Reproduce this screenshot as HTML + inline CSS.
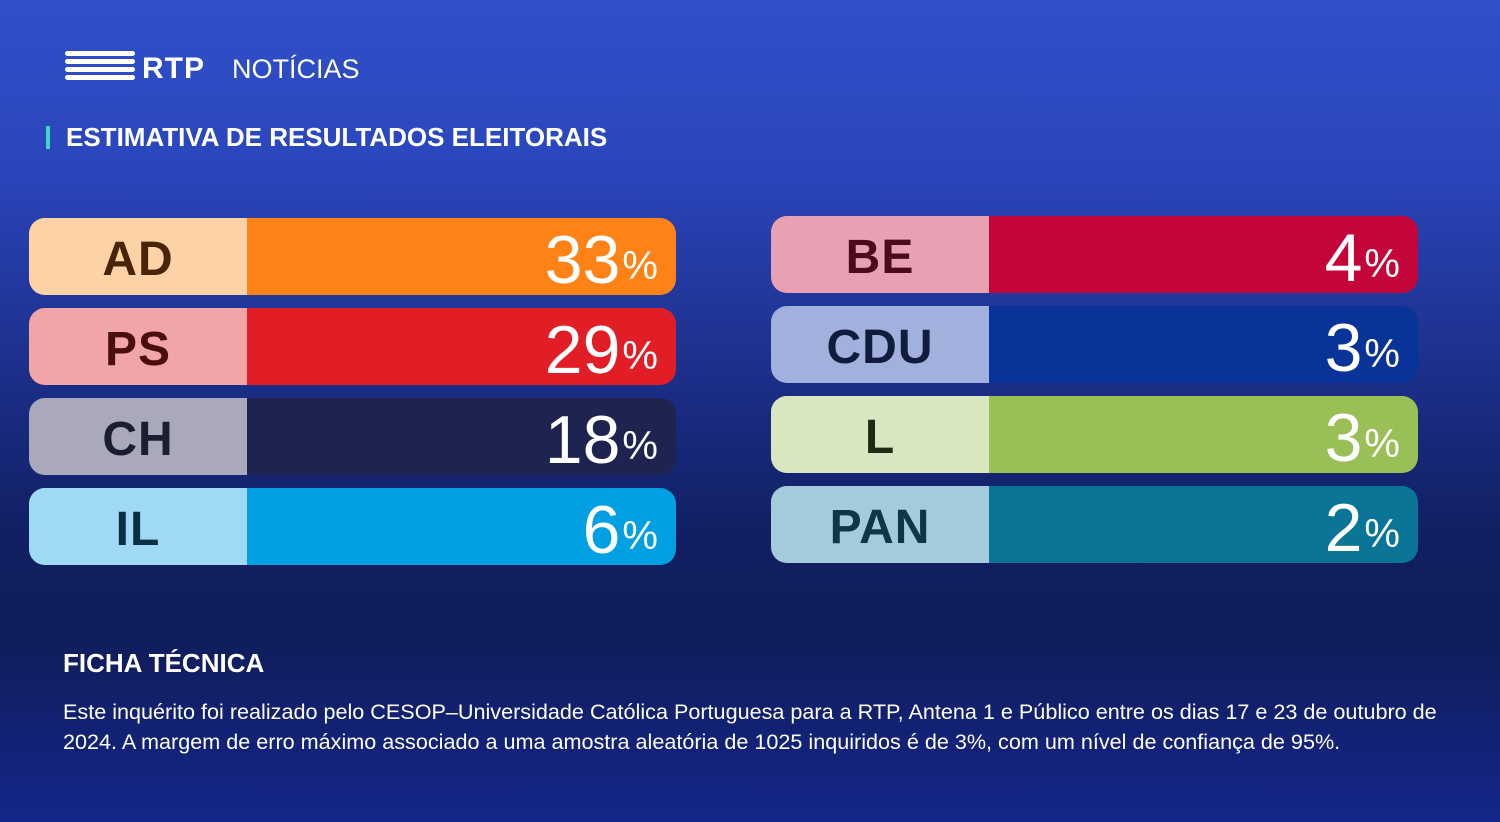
<!DOCTYPE html>
<html><head><meta charset="utf-8"><style>
*{margin:0;padding:0;box-sizing:border-box}
body{width:1500px;height:822px;overflow:hidden;font-family:"Liberation Sans",sans-serif;
background:linear-gradient(180deg,#3050c8 0%,#2a46bc 20%,#1c2f8a 45%,#111f62 65%,#101d5c 78%,#15268a 100%);position:relative;color:#fff}
.bar{position:absolute;width:647px;height:77px;border-radius:16px;overflow:hidden;display:flex}
.lab{width:218px;height:100%;display:flex;align-items:center;justify-content:center;font-weight:bold;font-size:48px;letter-spacing:1px;padding-top:6px}
.val{flex:1;display:flex;align-items:center;justify-content:flex-end;padding-right:18px;font-size:68px;color:#fff;padding-top:6px}
.val span{font-size:40px;margin-left:2px;margin-top:14px}
</style></head><body>
<div style="position:absolute;left:65px;top:51px">
<div style="width:70px;height:5px;background:#fff;border-radius:3px;margin-bottom:3px"></div>
<div style="width:70px;height:5px;background:#fff;border-radius:3px;margin-bottom:3px"></div>
<div style="width:70px;height:5px;background:#fff;border-radius:3px;margin-bottom:3px"></div>
<div style="width:70px;height:5px;background:#fff;border-radius:3px"></div>
</div>
<div style="position:absolute;left:142px;top:52px;font-size:30px;font-weight:bold;letter-spacing:1px">RTP</div>
<div style="position:absolute;left:232px;top:54px;font-size:27px">NOTÍCIAS</div>
<div style="position:absolute;left:46px;top:126px;width:4px;height:23px;background:#3fd6c8"></div>
<div style="position:absolute;left:66px;top:122px;font-size:26px;font-weight:bold">ESTIMATIVA DE RESULTADOS ELEITORAIS</div>

<div class="bar" style="left:29px;top:218px;background:#fe8216"><div class="lab" style="background:#fdd2a6;color:#4a2408">AD</div><div class="val">33<span>%</span></div></div>
<div class="bar" style="left:29px;top:308px;background:#e11e26"><div class="lab" style="background:#f2a5a8;color:#4a0d10">PS</div><div class="val">29<span>%</span></div></div>
<div class="bar" style="left:29px;top:398px;background:#1f2350"><div class="lab" style="background:#a9a9bb;color:#1c1d30">CH</div><div class="val">18<span>%</span></div></div>
<div class="bar" style="left:29px;top:488px;background:#00a0e3"><div class="lab" style="background:#9fd9f4;color:#0a2f45">IL</div><div class="val">6<span>%</span></div></div>

<div class="bar" style="left:771px;top:216px;background:#c4053a"><div class="lab" style="background:#e8a1b3;color:#4a0c1c">BE</div><div class="val">4<span>%</span></div></div>
<div class="bar" style="left:771px;top:306px;background:#0a3399"><div class="lab" style="background:#a1b0dc;color:#111c3c">CDU</div><div class="val">3<span>%</span></div></div>
<div class="bar" style="left:771px;top:396px;background:#9bbf57"><div class="lab" style="background:#d8e7c0;color:#1e2a12">L</div><div class="val">3<span>%</span></div></div>
<div class="bar" style="left:771px;top:486px;background:#0a7596"><div class="lab" style="background:#a3cbdc;color:#0f3646">PAN</div><div class="val">2<span>%</span></div></div>

<div style="position:absolute;left:63px;top:648px;font-size:26px;font-weight:bold">FICHA TÉCNICA</div>
<div style="position:absolute;left:63px;top:697px;width:1425px;font-size:21.6px;line-height:30px">Este inquérito foi realizado pelo CESOP–Universidade Católica Portuguesa para a RTP, Antena 1 e Público entre os dias 17 e 23 de outubro de 2024. A margem de erro máximo associado a uma amostra aleatória de 1025 inquiridos é de 3%, com um nível de confiança de 95%.</div>
</body></html>
